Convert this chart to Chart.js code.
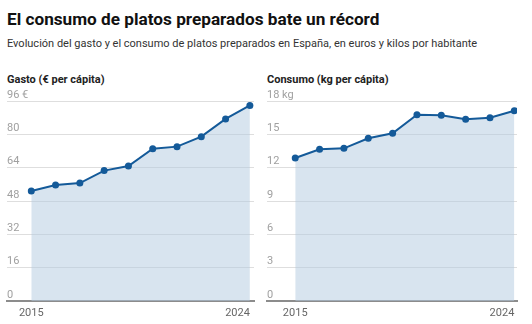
<!DOCTYPE html>
<html lang="es">
<head>
    <meta charset="UTF-8">
    <title>El consumo de platos preparados bate un récord</title>
    <script src="https://cdn.jsdelivr.net/npm/chart.js"></script>
    <style>
        body { margin: 0; width: 532px; height: 324px; background: #fff; font-family: Roboto, sans-serif; position: relative; overflow: hidden; }
        h1 { position: absolute; left: 7px; top: 9px; margin: 0; font-size: 17.2px; font-weight: 700; color: #111; white-space: nowrap; }
        .sub { position: absolute; left: 7px; top: 37px; margin: 0; font-size: 11px; color: #333; white-space: nowrap; }
        .label { position: absolute; top: 73px; font-size: 11px; font-weight: 700; color: #222; white-space: nowrap; }
        .box { position: absolute; top: 86px; width: 262px; height: 238px; }
    </style>
</head>
<body>
    <h1>El consumo de platos preparados bate un récord</h1>
    <p class="sub">Evolución del gasto y el consumo de platos preparados en España, en euros y kilos por habitante</p>
    <div class="label" style="left:7px">Gasto (€ per cápita)</div>
    <div class="label" style="left:267px">Consumo (kg per cápita)</div>
    <div class="box" style="left:0"><canvas id="gasto"></canvas></div>
    <div class="box" style="left:260px"><canvas id="consumo"></canvas></div>
    <script>
        const years = [2015, 2016, 2017, 2018, 2019, 2020, 2021, 2022, 2023, 2024];
        const gasto = [52.8, 55.7, 56.6, 62.6, 64.8, 73.1, 74.1, 78.9, 87.4, 93.9];
        const consumo = [12.87, 13.65, 13.74, 14.64, 15.09, 16.77, 16.71, 16.35, 16.5, 17.13];
        const xLabels = [2015, 2024];

        const LINE = '#145a99';
        const FILL = 'rgba(178, 202, 224, 0.5)';

        // x labels: first centred on its point, last right-aligned to its point
        const xLabelPlugin = {
            id: 'xLabels',
            afterDraw(chart) {
                const ctx = chart.ctx;
                const xs = chart.scales.x;
                ctx.save();
                ctx.font = '11px Roboto, sans-serif';
                ctx.fillStyle = '#666';
                ctx.textBaseline = 'middle';
                xLabels.forEach((y, i) => {
                    ctx.textAlign = i === 0 ? 'center' : 'right';
                    ctx.fillText(String(y), xs.getPixelForValue(y), chart.chartArea.bottom + 12);
                });
                ctx.restore();
            }
        };

        function makeChart(id, values, max, step, unit, xmin, xmax, padRight) {
            return new Chart(document.getElementById(id), {
                type: 'line',
                data: {
                    datasets: [{
                        data: years.map((y, i) => ({ x: y, y: values[i] })),
                        borderColor: LINE,
                        backgroundColor: FILL,
                        borderWidth: 2,
                        pointRadius: 3.5,
                        pointBackgroundColor: LINE,
                        pointBorderWidth: 0,
                        fill: 'origin',
                        tension: 0
                    }]
                },
                options: {
                    responsive: true,
                    maintainAspectRatio: false,
                    animation: false,
                    layout: { padding: { left: 7, right: padRight, top: 15, bottom: 23 } },
                    plugins: { legend: { display: false }, tooltip: { enabled: false } },
                    scales: {
                        x: {
                            type: 'linear',
                            min: xmin,
                            max: xmax,
                            grid: { display: false, drawTicks: false },
                            border: { display: true, color: '#8c8c8c', width: 2 },
                            ticks: { display: false }
                        },
                        y: {
                            min: 0,
                            max: max,
                            ticks: {
                                stepSize: step,
                                mirror: true,
                                padding: 0,
                                labelOffset: -6,
                                color: '#a0a0a0',
                                font: { family: 'Roboto', size: 11 },
                                callback: v => v === max ? v + ' ' + unit : v
                            },
                            grid: { color: '#dedede', drawTicks: false, lineWidth: 1 },
                            border: { display: false }
                        }
                    }
                },
                plugins: [xLabelPlugin]
            });
        }

        makeChart('gasto', gasto, 96, 16, '€', 2014.0, 2024.17, 8);
        makeChart('consumo', consumo, 18, 3, 'kg', 2013.84, 2024.11, 5);
    </script>
</body>
</html>
